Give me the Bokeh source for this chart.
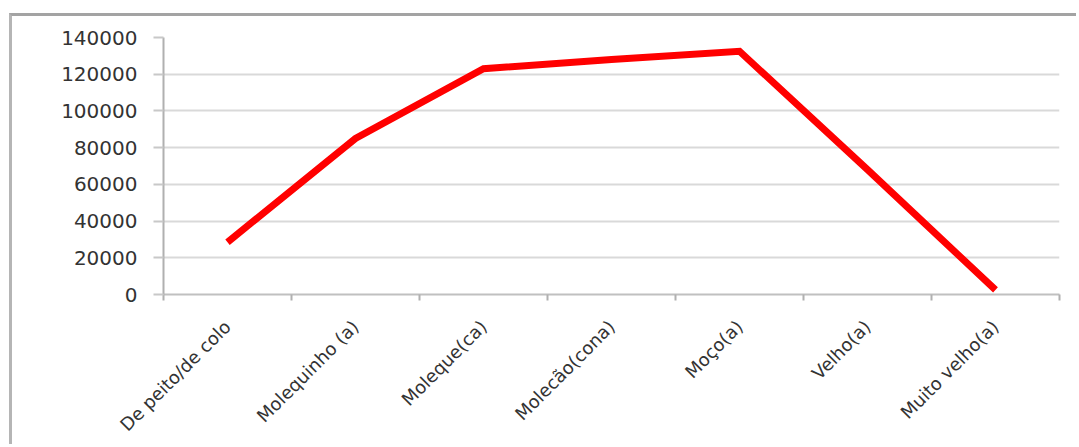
from bokeh.plotting import figure
from bokeh.models import Range1d, FixedTicker, NumeralTickFormatter
from bokeh.embed import file_html
from bokeh.resources import INLINE
import math

# Age-group categories and counts
categories = ["De peito/de colo", "Molequinho (a)", "Moleque(ca)", "Molecão(cona)",
              "Moço(a)", "Velho(a)", "Muito velho(a)"]
counts = [28500, 85000, 123000, 128000, 132500, 68000, 2500]
y_ticks = [0, 20000, 40000, 60000, 80000, 100000, 120000, 140000]

centers = [i + 0.5 for i in range(len(categories))]
boundaries = list(range(len(categories) + 1))

p = figure(width=1067, height=431, output_backend="svg", toolbar_location=None,
           x_range=Range1d(0, len(categories)), y_range=Range1d(0, 140000),
           min_border_left=151, min_border_right=20, min_border_top=21, min_border_bottom=153)
p.styles = {"margin-left": "9px", "margin-top": "13px",
            "border-top": "3px solid #a3a3a3", "border-left": "3px solid #b5b5b5"}

p.outline_line_color = None
p.background_fill_color = "white"
p.border_fill_color = "white"

font = "DejaVu Sans"
label_color = "#333333"

# y axis
p.yaxis.ticker = FixedTicker(ticks=y_ticks)
p.yaxis.formatter = NumeralTickFormatter(format="0")
p.yaxis.axis_line_color = "#b0b0b0"
p.yaxis.axis_line_width = 2
p.yaxis.major_tick_line_color = "#c8c8c8"
p.yaxis.major_tick_line_width = 2
p.yaxis.major_tick_out = 10
p.yaxis.major_tick_in = 0
p.yaxis.minor_tick_line_color = None
p.yaxis.major_label_standoff = 16
p.yaxis.major_label_text_font = font
p.yaxis.major_label_text_font_size = "20px"
p.yaxis.major_label_text_color = label_color

# x axis: labels at category centers, tick marks at category boundaries
p.xaxis.ticker = FixedTicker(ticks=centers, minor_ticks=boundaries)
p.xaxis.major_label_overrides = {c: name for c, name in zip(centers, categories)}
p.xaxis.major_label_orientation = math.pi / 4
p.xaxis.major_tick_line_color = None
p.xaxis.minor_tick_line_color = "#b0b0b0"
p.xaxis.minor_tick_line_width = 2
p.xaxis.minor_tick_out = 6
p.xaxis.minor_tick_in = 0
p.xaxis.axis_line_color = "#c0c0c0"
p.xaxis.axis_line_width = 2
p.xaxis.major_label_standoff = 23
p.xaxis.major_label_text_font = font
p.xaxis.major_label_text_font_size = "18px"
p.xaxis.major_label_text_color = label_color

p.xgrid.grid_line_color = None
p.ygrid.ticker = FixedTicker(ticks=y_ticks)
p.ygrid.grid_line_color = "#d9d9d9"
p.ygrid.grid_line_width = 2

p.line(centers, counts, line_color="#ff0000", line_width=7, line_join="miter")

open("out.html", "w").write(file_html(p, INLINE))
